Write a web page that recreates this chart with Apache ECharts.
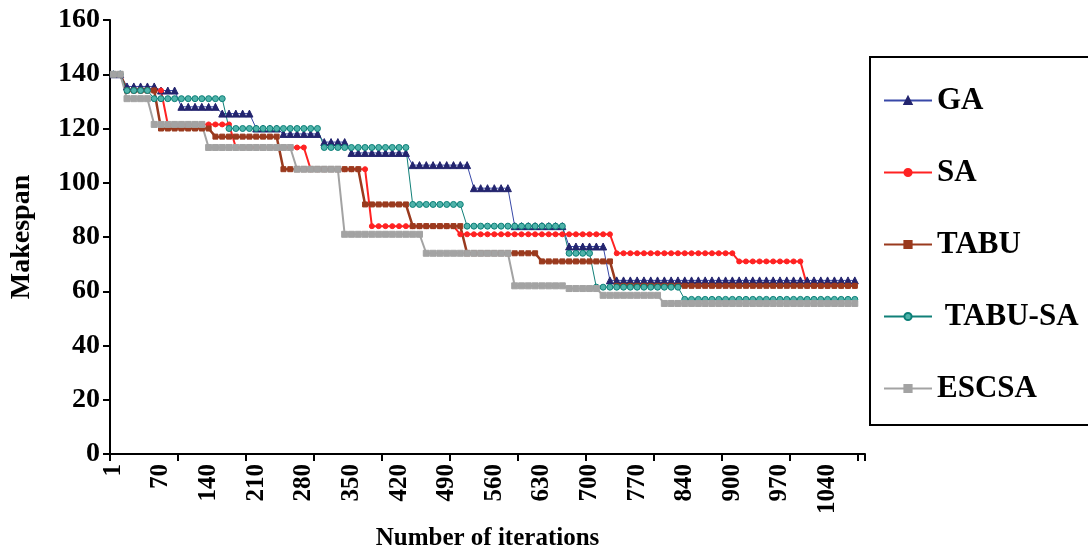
<!DOCTYPE html>
<html>
<head>
<meta charset="utf-8">
<script src="https://cdn.jsdelivr.net/npm/echarts@6/dist/echarts.min.js"></script>
<style>html,body{margin:0;padding:0;background:#fff;}#chart{width:1088px;height:553px;}</style>
</head>
<body>
<div id="chart"></div>
<script>
var tickLabels = ['1','70','140','210','280','350','420','490','560','630','700','770','840','900','970','1040'];
var categoryCount = 111;

var GA = [
140,140,135.5,135.5,135.5,135.5,135.5,134,134,134,
128,128,128,128,128,128,125.5,125.5,125.5,125.5,
125.5,120,120,120,120,118,118,118,118,118,
118,115,115,115,115,111,111,111,111,111,
111,111,111,111,106.5,106.5,106.5,106.5,106.5,106.5,
106.5,106.5,106.5,98,98,98,98,98,98,84,
84,84,84,84,84,84,84,76.5,76.5,76.5,
76.5,76.5,76.5,64,64,64,64,64,64,64,
64,64,64,64,64,64,64,64,64,64,
64,64,64,64,64,64,64,64,64,64,
64,64,64,64,64,64,64,64,64,64
];
var SA = [
140,140,134,134,134,134,134,134,121.5,121.5,
121.5,121.5,121.5,121.5,121.5,121.5,121.5,121.5,113,113,
113,113,113,113,113,113,113,113,113,105,
105,105,105,105,105,105,105,105,84,84,
84,84,84,84,84,84,84,84,84,84,
84,81,81,81,81,81,81,81,81,81,
81,81,81,81,81,81,81,81,81,81,
81,81,81,81,74,74,74,74,74,74,
74,74,74,74,74,74,74,74,74,74,
74,74,71,71,71,71,71,71,71,71,
71,71,62,62,62,62,62,62,62,62
];
var TABU = [
140,140,134,134,134,134,134,120,120,120,
120,120,120,120,120,117,117,117,117,117,
117,117,117,117,117,105,105,105,105,105,
105,105,105,105,105,105,105,92,92,92,
92,92,92,92,84,84,84,84,84,84,
84,84,74,74,74,74,74,74,74,74,
74,74,74,71,71,71,71,71,71,71,
71,71,71,71,62,62,62,62,62,62,
62,62,62,62,62,62,62,62,62,62,
62,62,62,62,62,62,62,62,62,62,
62,62,62,62,62,62,62,62,62,62
];
var TABU_SA = [
140,140,134,134,134,134,131,131,131,131,
131,131,131,131,131,131,131,120,120,120,
120,120,120,120,120,120,120,120,120,120,
120,113,113,113,113,113,113,113,113,113,
113,113,113,113,92,92,92,92,92,92,
92,92,84,84,84,84,84,84,84,84,
84,84,84,84,84,84,84,74,74,74,
74,61.5,61.5,61.5,61.5,61.5,61.5,61.5,61.5,61.5,
61.5,61.5,61.5,61.5,57,57,57,57,57,57,
57,57,57,57,57,57,57,57,57,57,
57,57,57,57,57,57,57,57,57,57
];
var ESCSA = [
140,140,131,131,131,131,121.5,121.5,121.5,121.5,
121.5,121.5,121.5,121.5,113,113,113,113,113,113,
113,113,113,113,113,113,113,105,105,105,
105,105,105,105,81,81,81,81,81,81,
81,81,81,81,81,81,74,74,74,74,
74,74,74,74,74,74,74,74,74,62,
62,62,62,62,62,62,62,61,61,61,
61,61,58.5,58.5,58.5,58.5,58.5,58.5,58.5,58.5,
58.5,55.5,55.5,55.5,55.5,55.5,55.5,55.5,55.5,55.5,
55.5,55.5,55.5,55.5,55.5,55.5,55.5,55.5,55.5,55.5,
55.5,55.5,55.5,55.5,55.5,55.5,55.5,55.5,55.5,55.5
];

var categories = [];
for (var i = 0; i < categoryCount; i++) categories.push(String(i));

var FONT = '"Liberation Serif", "Times New Roman", serif';

var chart = echarts.init(document.getElementById('chart'));
function mk(name, data, lineColor, lineWidth, symbol, symSize, fill, border) {
  return {
    name: name, type: 'line', data: data, symbol: symbol, symbolSize: symSize,
    showAllSymbol: true, animation: false,
    lineStyle: { color: lineColor, width: lineWidth },
    itemStyle: { color: fill, borderColor: border || fill, borderWidth: 1 },
    emphasis: { disabled: true }
  };
}
chart.setOption({
  animation: false,
  backgroundColor: '#fff',
  grid: { left: 110, right: 223, top: 20, bottom: 99, containLabel: false, outerBoundsMode: 'none' },
  graphic: [{
    type: 'rect', shape: { x: 870, y: 57, width: 240, height: 368 },
    style: { fill: 'none', stroke: '#000', lineWidth: 2 }, z: 10
  }],
  legend: {
    orient: 'vertical', left: 878, top: 80,
    itemWidth: 48, itemHeight: 9, itemGap: 41,
    textStyle: { fontFamily: FONT, fontWeight: 'bold', fontSize: 31, color: '#000' },
    data: ['GA', 'SA', 'TABU', ' TABU-SA', 'ESCSA']
  },
  xAxis: {
    type: 'category', data: categories, boundaryGap: true,
    name: 'Number of iterations', nameLocation: 'middle', nameGap: 72,
    nameTextStyle: { fontFamily: FONT, fontWeight: 'bold', fontSize: 25, color: '#000' },
    axisLine: { lineStyle: { color: '#000', width: 2 } },
    axisTick: { show: true, interval: 9, length: 7, lineStyle: { color: '#000', width: 2 } },
    axisLabel: {
      interval: 6, rotate: 90, margin: 10, color: '#000',
      fontFamily: FONT, fontWeight: 'bold', fontSize: 25,
      formatter: function (v, idx) { return idx % 7 === 0 && tickLabels[idx / 7] ? tickLabels[idx / 7] : ''; }
    },
    splitLine: { show: false }
  },
  yAxis: {
    type: 'value', min: 0, max: 160, interval: 20,
    name: 'Makespan', nameLocation: 'middle', nameGap: 74, nameRotate: 90,
    nameTextStyle: { fontFamily: FONT, fontWeight: 'bold', fontSize: 28, color: '#000' },
    axisLine: { show: true, lineStyle: { color: '#000', width: 2 } },
    axisTick: { show: true, length: 7, lineStyle: { color: '#000', width: 2 } },
    axisLabel: { color: '#000', fontFamily: FONT, fontWeight: 'bold', fontSize: 28, margin: 10 },
    splitLine: { show: false }
  },
  series: [
    mk('GA', GA, '#3848A8', 1, 'triangle', 7, '#23246E'),
    mk('SA', SA, '#FF2222', 2, 'circle', 5, '#FF2222'),
    mk('TABU', TABU, '#9A3A1E', 2.5, 'rect', 5, '#9A3A1E'),
    mk(' TABU-SA', TABU_SA, '#108078', 1, 'circle', 6, '#4FB3AA', '#0B7F77'),
    mk('ESCSA', ESCSA, '#A3A3A3', 2, 'rect', 6, '#A3A3A3')
  ]
});
</script>
</body>
</html>
